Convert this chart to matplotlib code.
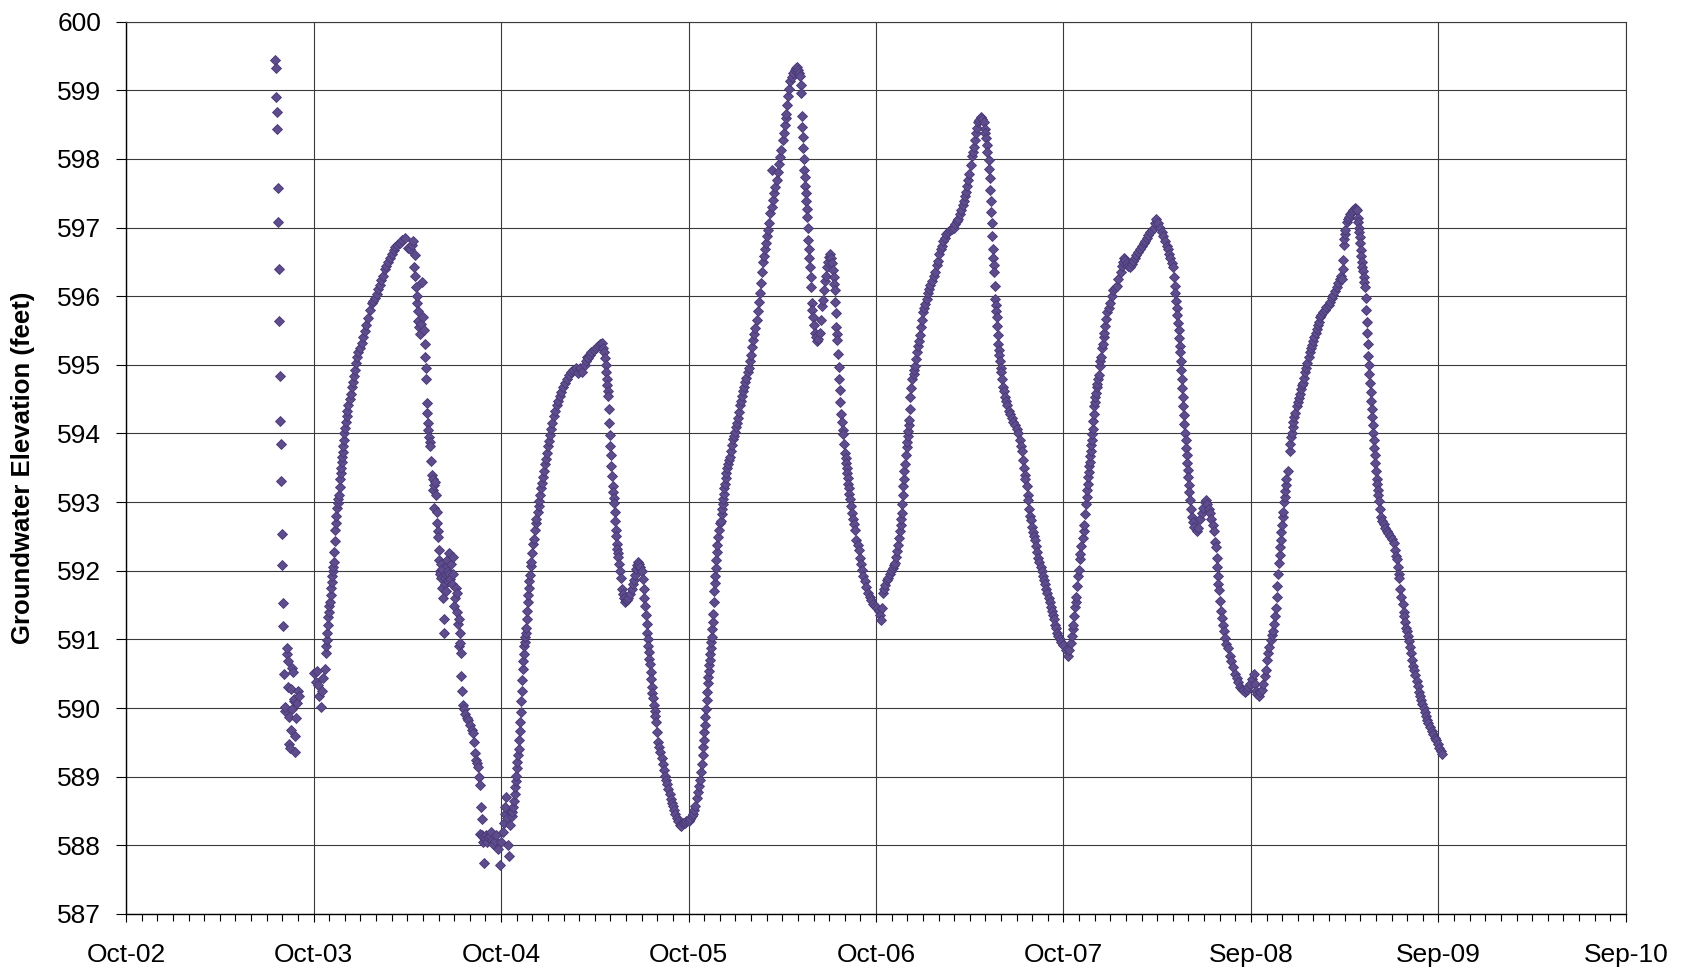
"""groundwater elevation hydrograph"""

import numpy as np
import pandas as pd
import matplotlib
matplotlib.use('Agg')
from matplotlib import pyplot as plt
from matplotlib import dates as mdates
from matplotlib.ticker import FixedLocator, FixedFormatter

# 日期以 2002-10-01 起算的天数记录: (天数, 水位)
start = pd.Timestamp('2002-10-01')

wy2003 = [(290, 599.44), (291, 599.32), (292, 598.90), (293, 598.69), (294, 598.44), (295, 597.57),
          (296, 597.08), (297, 596.39), (298, 595.64), (299, 594.83), (300, 594.18), (301, 593.84),
          (302, 593.31), (303, 592.53), (304, 592.09), (305, 591.53), (306, 591.19), (308, 590.49),
          (309, 589.96), (310, 590.02), (313, 590.79), (314, 590.87), (315, 590.69), (316, 590.31),
          (317, 589.87), (318, 589.47), (319, 589.42), (321, 590.28), (322, 589.68), (323, 589.99),
          (324, 590.59), (325, 590.53), (326, 590.10), (327, 590.13), (328, 589.59), (329, 589.36),
          (330, 589.85), (332, 590.08), (335, 590.25), (337, 590.17)]

wy2004 = [(366, 590.51), (369, 590.38), (372, 590.54), (374, 590.34), (376, 590.18), (379, 590.02),
          (381, 590.25), (384, 590.44), (387, 590.57), (389, 590.80), (390, 590.90), (391, 590.99),
          (392, 591.10), (393, 591.21), (394, 591.32), (395, 591.40), (396, 591.48), (397, 591.55),
          (398, 591.65), (399, 591.75), (400, 591.84), (401, 591.92), (402, 592.00), (403, 592.06),
          (404, 592.13), (405, 592.28), (406, 592.44), (407, 592.59), (408, 592.70), (409, 592.80),
          (410, 592.91), (412, 592.99), (413, 593.05), (415, 593.11), (416, 593.22), (417, 593.33),
          (418, 593.43), (419, 593.50), (420, 593.58), (421, 593.66), (422, 593.73), (423, 593.82),
          (424, 593.90), (425, 594.00), (426, 594.08), (428, 594.17), (430, 594.26), (431, 594.33),
          (433, 594.41), (435, 594.50), (437, 594.58), (439, 594.67), (441, 594.75), (443, 594.84),
          (446, 594.93), (448, 595.02), (450, 595.11), (452, 595.19), (455, 595.25), (459, 595.32),
          (462, 595.40), (465, 595.49), (468, 595.58), (471, 595.68), (475, 595.80), (478, 595.90),
          (481, 595.93), (485, 595.97), (488, 596.03), (491, 596.10), (494, 596.16), (497, 596.23),
          (500, 596.30), (504, 596.39), (507, 596.44), (510, 596.50), (514, 596.55), (518, 596.62),
          (521, 596.67), (524, 596.72), (528, 596.75), (533, 596.78), (538, 596.82), (543, 596.85),
          (548, 596.70), (553, 596.68), (556, 596.75), (559, 596.81), (561, 596.42), (562, 596.60),
          (563, 596.30), (565, 596.13), (566, 595.90), (567, 596.00), (568, 595.78), (569, 595.64),
          (570, 595.55), (572, 595.45), (574, 595.60), (576, 596.20), (578, 595.70), (580, 595.51),
          (581, 595.30), (582, 595.12), (583, 594.95), (584, 594.80), (585, 594.44), (586, 594.30),
          (587, 594.15), (588, 594.05), (589, 593.95), (591, 593.88), (592, 593.82), (594, 593.60),
          (596, 593.40), (597, 593.34), (598, 593.17), (599, 593.25), (600, 592.91), (602, 593.30),
          (603, 593.10), (605, 592.85), (606, 592.70), (607, 592.58), (608, 592.49), (609, 592.30),
          (610, 592.15), (611, 592.00), (612, 591.95), (613, 592.10), (614, 591.90), (615, 591.75),
          (616, 592.02), (617, 591.60), (618, 591.29), (619, 591.09), (620, 591.81), (621, 591.90),
          (622, 591.70), (623, 591.95), (624, 592.07), (625, 592.15), (626, 591.85), (627, 592.00),
          (628, 592.26), (629, 591.95), (630, 591.88), (632, 592.10), (634, 591.81), (636, 591.95),
          (637, 592.20), (638, 591.48), (640, 591.60), (642, 591.75), (644, 591.68), (645, 591.40),
          (647, 591.22), (648, 591.30), (649, 590.90), (650, 591.09), (651, 590.95), (652, 590.80),
          (653, 590.47), (654, 590.25), (655, 590.05), (657, 589.98), (660, 589.92), (663, 589.86),
          (666, 589.82), (670, 589.75), (673, 589.68), (676, 589.63), (678, 589.50), (679, 589.34),
          (681, 589.25), (683, 589.20), (685, 589.14), (687, 589.00), (689, 588.88), (690, 588.17),
          (691, 588.56), (692, 588.39), (693, 588.15), (694, 588.05), (695, 588.12), (697, 587.74),
          (699, 588.10), (701, 588.15), (703, 588.05), (705, 588.12), (708, 588.13), (710, 588.20),
          (712, 588.08), (715, 588.02), (718, 588.07), (721, 588.15), (724, 587.95), (727, 587.71),
          (730, 588.05)]

wy2005 = [(733, 588.20), (735, 588.33), (737, 588.45), (738, 588.56), (740, 588.70), (742, 588.40),
          (744, 588.00), (745, 587.84), (747, 588.30), (749, 588.50), (751, 588.43), (752, 588.48),
          (754, 588.56), (755, 588.65), (757, 588.75), (758, 588.85), (759, 588.93), (760, 589.01),
          (761, 589.12), (762, 589.22), (763, 589.31), (764, 589.40), (765, 589.53), (766, 589.66),
          (767, 589.79), (768, 589.94), (769, 590.10), (770, 590.25), (771, 590.41), (772, 590.57),
          (773, 590.68), (774, 590.79), (775, 590.90), (776, 590.96), (777, 591.03), (778, 591.10),
          (779, 591.16), (780, 591.29), (781, 591.42), (782, 591.55), (783, 591.65), (784, 591.75),
          (785, 591.85), (786, 591.94), (788, 592.07), (789, 592.13), (791, 592.26), (793, 592.39),
          (794, 592.46), (796, 592.59), (798, 592.70), (799, 592.75), (801, 592.85), (803, 592.95),
          (804, 593.01), (806, 593.11), (808, 593.20), (810, 593.28), (812, 593.37), (814, 593.46),
          (816, 593.55), (818, 593.63), (820, 593.72), (822, 593.81), (824, 593.89), (826, 593.98),
          (828, 594.06), (830, 594.15), (833, 594.25), (835, 594.32), (838, 594.41), (841, 594.48),
          (844, 594.54), (847, 594.60), (851, 594.68), (854, 594.73), (858, 594.80), (862, 594.85),
          (866, 594.89), (871, 594.93), (876, 594.95), (880, 594.88), (884, 594.96), (888, 594.90),
          (893, 594.99), (895, 595.05), (897, 595.12), (900, 595.10), (903, 595.15), (906, 595.18),
          (910, 595.22), (914, 595.25), (918, 595.28), (922, 595.30), (926, 595.32), (928, 595.25),
          (930, 595.19), (932, 595.10), (934, 594.99), (935, 594.90), (936, 594.80), (937, 594.70),
          (938, 594.62), (939, 594.54), (940, 594.35), (941, 594.15), (942, 593.98), (943, 593.82),
          (944, 593.68), (945, 593.53), (946, 593.38), (947, 593.24), (948, 593.15), (949, 593.06),
          (950, 592.98), (951, 592.85), (952, 592.72), (953, 592.60), (954, 592.50), (955, 592.39),
          (956, 592.32), (957, 592.26), (958, 592.20), (960, 592.10), (962, 592.00), (963, 591.90),
          (965, 591.74), (967, 591.66), (969, 591.60), (971, 591.55), (974, 591.57), (976, 591.58),
          (978, 591.61), (981, 591.66), (984, 591.74), (986, 591.80), (988, 591.86), (991, 591.94),
          (993, 592.02), (995, 592.08), (997, 592.13), (999, 592.10), (1001, 592.05), (1004, 592.00),
          (1006, 591.88), (1008, 591.74), (1009, 591.60), (1010, 591.48), (1012, 591.35), (1014, 591.22),
          (1015, 591.10), (1016, 591.00), (1017, 590.90), (1018, 590.81), (1019, 590.72), (1020, 590.64),
          (1021, 590.53), (1022, 590.42), (1023, 590.31), (1024, 590.22), (1025, 590.14), (1027, 590.05),
          (1029, 589.95), (1030, 589.88), (1032, 589.79), (1034, 589.65), (1036, 589.50), (1038, 589.43),
          (1040, 589.36), (1043, 589.27), (1045, 589.18), (1047, 589.10), (1049, 589.01), (1051, 588.95),
          (1053, 588.90), (1056, 588.82), (1058, 588.75), (1060, 588.68), (1062, 588.62), (1064, 588.57),
          (1066, 588.52), (1069, 588.46), (1072, 588.40), (1075, 588.35), (1078, 588.30), (1081, 588.28),
          (1084, 588.32), (1088, 588.33), (1091, 588.35), (1095, 588.36)]

wy2006 = [(1098, 588.39), (1101, 588.42), (1104, 588.46), (1106, 588.52), (1108, 588.58), (1111, 588.69),
          (1113, 588.78), (1115, 588.87), (1117, 588.95), (1119, 589.07), (1121, 589.19), (1123, 589.31),
          (1124, 589.43), (1125, 589.54), (1126, 589.65), (1127, 589.76), (1128, 589.87), (1129, 589.98),
          (1130, 590.11), (1131, 590.24), (1132, 590.37), (1133, 590.45), (1134, 590.54), (1135, 590.62),
          (1136, 590.70), (1137, 590.79), (1138, 590.87), (1139, 590.96), (1140, 591.04), (1141, 591.15),
          (1142, 591.26), (1143, 591.37), (1144, 591.54), (1145, 591.71), (1146, 591.82), (1147, 591.93),
          (1148, 592.04), (1149, 592.15), (1150, 592.27), (1151, 592.38), (1153, 592.49), (1155, 592.60),
          (1157, 592.69), (1158, 592.73), (1160, 592.82), (1161, 592.90), (1162, 592.97), (1163, 593.05),
          (1164, 593.12), (1165, 593.20), (1166, 593.27), (1167, 593.35), (1168, 593.42), (1169, 593.49),
          (1171, 593.56), (1173, 593.61), (1175, 593.66), (1177, 593.75), (1179, 593.83), (1182, 593.92),
          (1184, 593.97), (1186, 594.02), (1188, 594.09), (1190, 594.15), (1192, 594.22), (1194, 594.31),
          (1196, 594.41), (1197, 594.48), (1199, 594.55), (1201, 594.62), (1203, 594.68), (1205, 594.75),
          (1207, 594.81), (1210, 594.90), (1212, 594.96), (1215, 595.05), (1217, 595.15), (1219, 595.26),
          (1221, 595.36), (1223, 595.45), (1225, 595.53), (1228, 595.65), (1230, 595.78), (1232, 595.91),
          (1234, 596.04), (1236, 596.19), (1238, 596.35), (1240, 596.50), (1241, 596.58), (1243, 596.68),
          (1245, 596.78), (1247, 596.87), (1249, 596.97), (1251, 597.07), (1254, 597.21), (1257, 597.84),
          (1258, 597.30), (1260, 597.40), (1262, 597.50), (1264, 597.59), (1267, 597.69), (1269, 597.81),
          (1271, 597.92), (1273, 598.03), (1275, 598.13), (1278, 598.27), (1280, 598.37), (1282, 598.49),
          (1284, 598.60), (1285, 598.66), (1287, 598.78), (1289, 598.91), (1291, 599.02), (1293, 599.13),
          (1296, 599.19), (1299, 599.25), (1302, 599.30), (1304, 599.32), (1306, 599.34), (1308, 599.30),
          (1310, 599.25), (1312, 599.20), (1313, 599.08), (1314, 598.96), (1315, 598.62), (1316, 598.47),
          (1317, 598.32), (1318, 598.16), (1319, 598.00), (1320, 597.84), (1321, 597.73), (1322, 597.61),
          (1323, 597.50), (1324, 597.39), (1325, 597.27), (1326, 597.16), (1327, 596.99), (1328, 596.82),
          (1329, 596.69), (1330, 596.56), (1332, 596.43), (1333, 596.28), (1334, 596.14), (1335, 595.90),
          (1336, 595.80), (1337, 595.70), (1339, 595.58), (1341, 595.46), (1343, 595.40), (1345, 595.34),
          (1347, 595.38), (1350, 595.46), (1352, 595.66), (1354, 595.85), (1356, 595.95), (1359, 596.09),
          (1361, 596.22), (1362, 596.30), (1364, 596.43), (1366, 596.50), (1368, 596.57), (1370, 596.62),
          (1372, 596.55), (1374, 596.48), (1377, 596.38), (1378, 596.28), (1379, 596.18), (1380, 596.09),
          (1381, 595.92), (1382, 595.75), (1383, 595.55), (1384, 595.45), (1385, 595.36), (1386, 595.16),
          (1387, 594.97), (1388, 594.80), (1389, 594.63), (1390, 594.46), (1391, 594.29), (1393, 594.17),
          (1395, 594.05), (1396, 593.99), (1398, 593.85), (1400, 593.72), (1401, 593.64), (1402, 593.57),
          (1403, 593.49), (1404, 593.42), (1405, 593.35), (1406, 593.27), (1407, 593.20), (1408, 593.12),
          (1409, 593.05), (1411, 592.95), (1413, 592.84), (1415, 592.76), (1417, 592.68), (1419, 592.60),
          (1422, 592.45), (1424, 592.38), (1426, 592.30), (1429, 592.19), (1431, 592.10), (1433, 592.01),
          (1435, 591.93), (1438, 591.85), (1441, 591.77), (1445, 591.67), (1448, 591.62), (1451, 591.57),
          (1455, 591.51), (1458, 591.48)]

wy2007 = [(1461, 591.45), (1465, 591.41), (1467, 591.35), (1469, 591.28), (1471, 591.45), (1474, 591.67),
          (1476, 591.73), (1478, 591.79), (1481, 591.86), (1484, 591.90), (1487, 591.95), (1490, 591.99),
          (1493, 592.04), (1495, 592.08), (1497, 592.12), (1499, 592.20), (1501, 592.29), (1503, 592.38),
          (1505, 592.48), (1507, 592.58), (1508, 592.67), (1509, 592.75), (1510, 592.84), (1511, 592.97),
          (1512, 593.10), (1513, 593.23), (1514, 593.34), (1515, 593.45), (1516, 593.55), (1518, 593.68),
          (1520, 593.80), (1521, 593.88), (1522, 593.96), (1523, 594.04), (1524, 594.12), (1525, 594.20),
          (1526, 594.36), (1527, 594.53), (1529, 594.66), (1531, 594.79), (1533, 594.87), (1534, 594.92),
          (1536, 594.98), (1538, 595.08), (1540, 595.18), (1542, 595.27), (1544, 595.35), (1546, 595.44),
          (1548, 595.55), (1550, 595.66), (1552, 595.77), (1554, 595.83), (1556, 595.88), (1559, 595.96),
          (1562, 596.05), (1564, 596.11), (1566, 596.16), (1569, 596.22), (1572, 596.29), (1575, 596.35),
          (1578, 596.45), (1580, 596.51), (1583, 596.61), (1586, 596.68), (1588, 596.73), (1591, 596.80),
          (1594, 596.85), (1597, 596.90), (1601, 596.94), (1604, 596.96), (1608, 596.98), (1611, 597.00),
          (1614, 597.05), (1617, 597.09), (1620, 597.13), (1623, 597.20), (1626, 597.26), (1629, 597.33),
          (1631, 597.39), (1633, 597.46), (1635, 597.52), (1637, 597.61), (1640, 597.69), (1642, 597.78),
          (1644, 597.91), (1646, 598.04), (1648, 598.10), (1651, 598.17), (1653, 598.27), (1655, 598.37),
          (1657, 598.45), (1659, 598.53), (1661, 598.57), (1664, 598.61), (1667, 598.58), (1670, 598.53),
          (1672, 598.43), (1673, 598.38), (1675, 598.30), (1676, 598.20), (1677, 598.10), (1679, 597.98),
          (1680, 597.85), (1681, 597.72), (1682, 597.55), (1683, 597.39), (1684, 597.23), (1685, 597.07),
          (1686, 596.87), (1687, 596.68), (1688, 596.55), (1689, 596.45), (1690, 596.35), (1691, 596.15),
          (1692, 595.96), (1693, 595.87), (1694, 595.78), (1695, 595.70), (1696, 595.57), (1697, 595.44),
          (1698, 595.31), (1699, 595.22), (1700, 595.14), (1701, 595.05), (1703, 594.95), (1704, 594.89),
          (1706, 594.79), (1708, 594.68), (1709, 594.62), (1711, 594.53), (1713, 594.47), (1715, 594.41),
          (1718, 594.33), (1721, 594.28), (1724, 594.22), (1727, 594.17), (1730, 594.12), (1734, 594.06),
          (1737, 594.01), (1740, 593.90), (1742, 593.82), (1744, 593.75), (1746, 593.62), (1748, 593.49),
          (1750, 593.39), (1751, 593.33), (1753, 593.23), (1755, 593.10), (1756, 593.03), (1758, 592.90),
          (1760, 592.80), (1761, 592.74), (1763, 592.64), (1766, 592.56), (1768, 592.50), (1770, 592.45),
          (1772, 592.36), (1774, 592.28), (1776, 592.19), (1778, 592.13), (1781, 592.05), (1783, 591.99),
          (1785, 591.93), (1787, 591.86), (1789, 591.80), (1791, 591.74), (1793, 591.68), (1796, 591.60),
          (1798, 591.54), (1800, 591.47), (1802, 591.41), (1804, 591.35), (1806, 591.30), (1809, 591.21),
          (1811, 591.16), (1813, 591.10), (1815, 591.05), (1818, 591.00), (1821, 590.96), (1825, 590.92)]

wy2008 = [(1829, 590.84), (1833, 590.76), (1836, 590.85), (1839, 590.95), (1841, 591.05), (1843, 591.15),
          (1844, 591.21), (1846, 591.34), (1848, 591.47), (1849, 591.54), (1850, 591.62), (1852, 591.78),
          (1854, 591.93), (1855, 592.01), (1857, 592.17), (1858, 592.25), (1860, 592.36), (1862, 592.47),
          (1864, 592.58), (1865, 592.66), (1867, 592.82), (1869, 592.97), (1870, 593.07), (1871, 593.17),
          (1872, 593.26), (1873, 593.36), (1874, 593.44), (1875, 593.52), (1876, 593.59), (1877, 593.67),
          (1878, 593.75), (1879, 593.83), (1880, 593.91), (1881, 593.99), (1882, 594.07), (1883, 594.18),
          (1884, 594.29), (1885, 594.40), (1886, 594.46), (1887, 594.53), (1888, 594.59), (1890, 594.68),
          (1891, 594.72), (1893, 594.79), (1894, 594.85), (1896, 594.98), (1897, 595.05), (1898, 595.12),
          (1900, 595.25), (1901, 595.31), (1903, 595.41), (1904, 595.47), (1906, 595.57), (1908, 595.67),
          (1910, 595.77), (1913, 595.83), (1916, 595.90), (1919, 596.00), (1922, 596.09), (1925, 596.12),
          (1929, 596.15), (1932, 596.25), (1936, 596.35), (1939, 596.44), (1941, 596.50), (1943, 596.55),
          (1945, 596.52), (1948, 596.48), (1951, 596.44), (1955, 596.42), (1958, 596.47), (1961, 596.51),
          (1964, 596.55), (1967, 596.60), (1971, 596.64), (1974, 596.68), (1978, 596.73), (1981, 596.77),
          (1984, 596.80), (1987, 596.85), (1990, 596.89), (1993, 596.94), (1997, 596.97), (2001, 597.00),
          (2004, 597.07), (2006, 597.13), (2009, 597.06), (2013, 597.00), (2016, 596.93), (2019, 596.87),
          (2023, 596.80), (2026, 596.73), (2028, 596.68), (2031, 596.61), (2033, 596.55), (2036, 596.48),
          (2038, 596.42), (2040, 596.28), (2042, 596.15), (2043, 596.04), (2044, 595.93), (2045, 595.83),
          (2046, 595.72), (2047, 595.61), (2049, 595.50), (2050, 595.39), (2051, 595.28), (2052, 595.18),
          (2053, 595.05), (2054, 594.92), (2055, 594.79), (2056, 594.66), (2057, 594.53), (2058, 594.40),
          (2059, 594.27), (2060, 594.14), (2062, 594.01), (2063, 593.90), (2064, 593.79), (2065, 593.68),
          (2066, 593.57), (2067, 593.47), (2068, 593.36), (2069, 593.25), (2070, 593.14), (2071, 593.03),
          (2073, 592.90), (2075, 592.79), (2077, 592.71), (2080, 592.64), (2084, 592.58), (2087, 592.62),
          (2091, 592.75), (2094, 592.84), (2097, 592.92), (2100, 593.00), (2102, 593.03), (2105, 592.97),
          (2108, 592.90), (2110, 592.84), (2113, 592.75), (2116, 592.66), (2118, 592.58), (2120, 592.42),
          (2121, 592.35), (2123, 592.19), (2124, 592.06), (2125, 591.93), (2126, 591.80), (2127, 591.72),
          (2129, 591.56), (2131, 591.41), (2133, 591.31), (2135, 591.21), (2137, 591.12), (2139, 591.02),
          (2142, 590.94), (2145, 590.87), (2149, 590.76), (2152, 590.68), (2155, 590.60), (2159, 590.50),
          (2162, 590.44), (2165, 590.38), (2169, 590.30), (2172, 590.28), (2175, 590.26), (2178, 590.24),
          (2182, 590.27), (2185, 590.30), (2188, 590.35)]

wy2009 = [(2192, 590.42), (2195, 590.50), (2198, 590.35), (2200, 590.25), (2202, 590.21), (2205, 590.18),
          (2208, 590.23), (2211, 590.27), (2214, 590.35), (2217, 590.47), (2219, 590.56), (2222, 590.70),
          (2224, 590.80), (2226, 590.89), (2229, 590.99), (2231, 591.06), (2233, 591.12), (2235, 591.23),
          (2237, 591.34), (2239, 591.45), (2240, 591.62), (2241, 591.78), (2243, 591.95), (2245, 592.12),
          (2246, 592.23), (2247, 592.34), (2248, 592.45), (2249, 592.56), (2250, 592.67), (2252, 592.79),
          (2253, 592.86), (2255, 593.00), (2256, 593.07), (2257, 593.16), (2258, 593.25), (2259, 593.34),
          (2263, 593.46), (2265, 593.75), (2266, 593.85), (2268, 593.95), (2269, 594.01), (2271, 594.10),
          (2272, 594.17), (2274, 594.24), (2276, 594.30), (2279, 594.40), (2281, 594.46), (2283, 594.51),
          (2285, 594.57), (2288, 594.65), (2290, 594.70), (2292, 594.74), (2294, 594.81), (2296, 594.89),
          (2298, 594.96), (2300, 595.03), (2303, 595.12), (2305, 595.18), (2307, 595.24), (2309, 595.29),
          (2311, 595.35), (2313, 595.40), (2316, 595.47), (2318, 595.52), (2320, 595.58), (2322, 595.63),
          (2324, 595.69), (2327, 595.72), (2331, 595.77), (2334, 595.80), (2337, 595.84), (2341, 595.87),
          (2344, 595.91), (2347, 595.97), (2350, 596.02), (2353, 596.08), (2357, 596.14), (2360, 596.19),
          (2363, 596.25), (2366, 596.30), (2368, 596.25), (2369, 596.40), (2370, 596.52), (2371, 596.75),
          (2372, 596.83), (2373, 596.91), (2374, 596.97), (2376, 597.08), (2378, 597.13), (2380, 597.16),
          (2383, 597.19), (2386, 597.22), (2389, 597.25), (2392, 597.28), (2394, 597.27), (2396, 597.25),
          (2398, 597.14), (2399, 597.08), (2400, 597.00), (2401, 596.93), (2402, 596.86), (2403, 596.77),
          (2404, 596.67), (2405, 596.58), (2406, 596.50), (2407, 596.43), (2409, 596.36), (2410, 596.28),
          (2411, 596.20), (2412, 596.13), (2413, 595.97), (2414, 595.80), (2415, 595.63), (2416, 595.46),
          (2417, 595.30), (2418, 595.13), (2419, 595.00), (2420, 594.87), (2422, 594.74), (2423, 594.61),
          (2424, 594.48), (2425, 594.35), (2426, 594.24), (2427, 594.12), (2428, 594.01), (2429, 593.90),
          (2430, 593.79), (2431, 593.68), (2432, 593.57), (2433, 593.45), (2435, 593.34), (2436, 593.26),
          (2437, 593.18), (2438, 593.10), (2440, 593.01), (2442, 592.90), (2444, 592.79), (2446, 592.73),
          (2448, 592.68), (2451, 592.62), (2454, 592.58), (2457, 592.55), (2461, 592.51), (2464, 592.46),
          (2468, 592.40), (2470, 592.30), (2472, 592.22), (2474, 592.17), (2476, 592.06), (2478, 591.95),
          (2479, 591.90), (2481, 591.74), (2483, 591.62), (2485, 591.51), (2487, 591.40), (2488, 591.34),
          (2490, 591.25), (2492, 591.16), (2493, 591.12), (2495, 591.05), (2497, 590.98), (2500, 590.89),
          (2502, 590.80), (2504, 590.70), (2506, 590.61), (2508, 590.55), (2510, 590.48), (2513, 590.39),
          (2515, 590.32), (2517, 590.24), (2519, 590.17), (2521, 590.12), (2523, 590.06), (2526, 590.00),
          (2528, 589.94), (2530, 589.89), (2532, 589.83), (2535, 589.78), (2538, 589.72), (2542, 589.66),
          (2545, 589.62), (2548, 589.57), (2551, 589.53), (2554, 589.47), (2556, 589.42), (2559, 589.38),
          (2561, 589.33)]

tick_labels = ['Oct-02', 'Oct-03', 'Oct-04', 'Oct-05', 'Oct-06', 'Oct-07', 'Sep-08', 'Sep-09', 'Sep-10']

readings = np.array(wy2003 + wy2004 + wy2005 + wy2006 + wy2007 + wy2008 + wy2009)
dates = start + pd.to_timedelta(readings[:, 0], unit='D')
vals = readings[:, 1]

plt.rcParams['font.family'] = ['Liberation Sans', 'DejaVu Sans']

fig = plt.figure(figsize=(16.9, 9.72), dpi=100)
ax = fig.add_axes([0.0746, 0.0597, 0.8875, 0.9181])

ax.plot(dates, vals, linestyle='none', marker='D', markersize=4.8,
        markerfacecolor='#5f4c8c', markeredgecolor='#463876', markeredgewidth=0.6)

# 坐标轴：每 365 天一个主刻度，每月一个次刻度
major = [mdates.date2num(start + pd.Timedelta(days=365 * k)) for k in range(9)]
minor = [mdates.date2num(start + pd.Timedelta(days=365 * k / 12)) for k in range(97)]
ax.set_xlim(major[0], major[-1])
ax.xaxis.set_major_locator(FixedLocator(major))
ax.xaxis.set_major_formatter(FixedFormatter(tick_labels))
ax.xaxis.set_minor_locator(FixedLocator(minor))

ax.set_ylim(587, 600)
ax.set_yticks(np.arange(587, 601, 1))

ax.grid(True, which='major', color='#3a3a3a', linewidth=0.8)
ax.set_axisbelow(True)

ax.tick_params(axis='y', which='major', direction='out', length=7, width=0.8, labelsize=19, pad=11)
ax.tick_params(axis='x', which='major', direction='out', length=6, width=0.8, labelsize=19, pad=15)
ax.tick_params(axis='x', which='minor', direction='out', length=5, width=0.8)

for side in ['left', 'bottom']:
    ax.spines[side].set_color('black')
    ax.spines[side].set_linewidth(1.0)
for side in ['top', 'right']:
    ax.spines[side].set_color('#3a3a3a')
    ax.spines[side].set_linewidth(0.8)

ax.set_ylabel('Groundwater Elevation (feet)', fontsize=18.5, fontweight='bold')
ax.yaxis.set_label_coords(-0.061, 0.5)

fig.savefig('out.png', dpi=100)
